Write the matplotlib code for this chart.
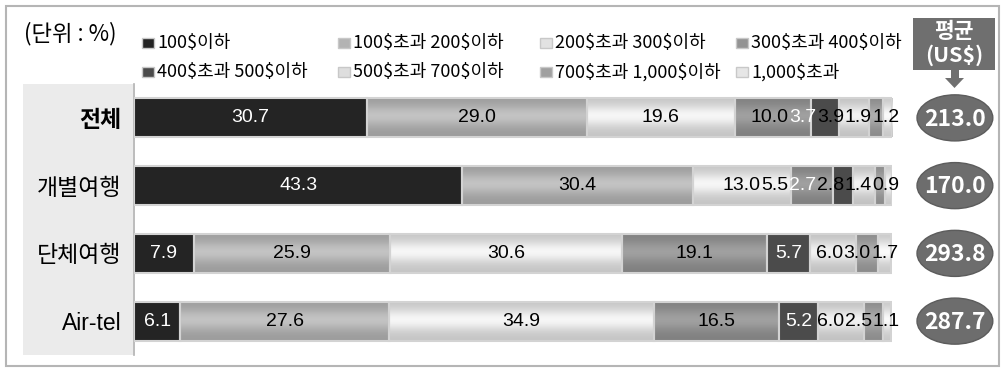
import numpy as np
import matplotlib
matplotlib.use("Agg")
import matplotlib.pyplot as plt
from matplotlib.patches import Rectangle, Ellipse, Polygon
from matplotlib.colors import to_rgb

plt.rcParams['font.family'] = ['Noto Sans CJK KR', 'DejaVu Sans']
plt.rcParams['text.parse_math'] = False  # "$" is a literal dollar sign here

# data
groups = ['전체', '개별여행', '단체여행', 'Air-tel']
bins = ['100$이하', '100$초과 200$이하', '200$초과 300$이하', '300$초과 400$이하',
        '400$초과 500$이하', '500$초과 700$이하', '700$초과 1,000$이하', '1,000$초과']
share_total = [30.7, 29.0, 19.6, 10.0, 3.7, 3.9, 1.9, 1.2]
share_indiv = [43.3, 30.4, 13.0, 5.5, 2.7, 2.8, 1.4, 0.9]
share_group = [7.9, 25.9, 30.6, 19.1, 5.7, 6.0, 3.0, 1.7]
share_airtel = [6.1, 27.6, 34.9, 16.5, 5.2, 6.0, 2.5, 1.1]
avg_usd = [213.0, 170.0, 293.8, 287.7]

colors = ['#242424', '#b3b3b3', '#e2e2e2', '#939393',
          '#4b4b4b', '#dedede', '#a0a0a0', '#e6e6e6']
shaded = [False, True, True, True, False, True, True, True]
txt_colors = ['white', 'black', 'black', 'black', 'white', 'black', 'black', 'black']

W, H = 1002, 369
fig = plt.figure(figsize=(W / 100, H / 100), dpi=100)


def fx(x):
    return x / W


def fy(y):
    return 1 - y / H


# outer frame
fig.patches.append(Rectangle((fx(6), fy(366)), fx(993), 360 / H, transform=fig.transFigure,
                             fill=False, edgecolor='#b5b5b5', lw=1.5, zorder=-2))
# category panel
fig.patches.append(Rectangle((fx(23), fy(355)), fx(110), 271 / H, transform=fig.transFigure,
                             facecolor='#ebebeb', edgecolor='none', zorder=-1))

ax = fig.add_axes([fx(134), fy(355), (892 - 134) / W, 271 / H])
ax.patch.set_alpha(0)

rows = [share_total, share_indiv, share_group, share_airtel]
data = np.array(rows)
px_per_unit = (892 - 134) / 100.0
lab_fs = 14
em = lab_fs * 100 / 72
bar_h = 0.575

# vertical shading profile: darker at top and bottom, bright band a bit above middle
t = np.linspace(0, 1, 40)
profile = 0.87 + 0.22 * np.exp(-((t - 0.45) / 0.28) ** 2)


def text_w(s):
    # rough width of a Liberation Sans label in data units
    n_dot = s.count('.')
    return ((len(s) - n_dot) * 0.556 + n_dot * 0.278) * em / px_per_unit


for i, vals in enumerate(data):
    left = np.concatenate([[0], np.cumsum(vals)[:-1]])
    bars = ax.barh(i, vals, left=left, height=bar_h, color=colors,
                   edgecolor='#d3d3d3', linewidth=1.5, zorder=3)
    for k, b in enumerate(bars):
        if not shaded[k]:
            continue
        b.set_facecolor('none')
        rgb = np.clip(np.array(to_rgb(colors[k]))[None, None, :] * profile[:, None, None], 0, 1)
        ax.imshow(rgb, extent=(left[k], left[k] + vals[k], i + bar_h / 2, i - bar_h / 2),
                  aspect='auto', interpolation='bilinear', zorder=2)
    # place labels, pushing narrow ones to the left so they don't collide
    centers = left + vals / 2
    labels = ['%.1f' % v for v in vals]
    xs = [0.0] * len(vals)
    limit = 101.0
    for k in range(len(vals) - 1, -1, -1):
        w = text_w(labels[k])
        c = min(centers[k], limit - w / 2)
        xs[k] = c
        limit = c - w / 2 - 0.1
    for k in range(len(vals)):
        ax.text(xs[k], i, labels[k], ha='center', va='center', fontsize=lab_fs,
                color=txt_colors[k], family=['Liberation Sans'], zorder=4)
    # average ellipse
    ax.add_patch(Ellipse((108.3, i), 10.0, 0.68, facecolor='#6d6d6d',
                         edgecolor='#5c5c5c', lw=1, clip_on=False, zorder=5))
    ax.text(108.3, i + 0.02, '%.1f' % avg_usd[i], ha='center', va='center',
            fontsize=16.5, fontweight='bold', color='white', zorder=6)

ax.set_xlim(0, 100)
ax.set_ylim(3.5, -0.5)
ax.set_xticks([])
ax.set_yticks(range(len(groups)))
ax.set_yticklabels(groups, family=['Liberation Sans', 'Noto Sans CJK KR'], fontsize=16.5)
ax.get_yticklabels()[0].set_fontweight('bold')
ax.tick_params(axis='y', length=0, pad=9)
for s in ['top', 'right', 'bottom']:
    ax.spines[s].set_visible(False)
ax.spines['left'].set_color('#b0b0b0')
ax.spines['left'].set_linewidth(1.2)

# unit
fig.text(fx(24), fy(34), '(단위 : %)', fontsize=16, va='center', ha='left')

# legend drawn by hand, two rows of four
leg_x = [142, 338, 540, 736]
leg_y = [43, 72]
for j, name in enumerate(bins):
    x0 = leg_x[j % 4]
    y0 = leg_y[j // 4]
    fig.patches.append(Rectangle((fx(x0), fy(y0 + 5)), 12 / W, 10 / H, transform=fig.transFigure,
                                 facecolor=colors[j], edgecolor='#c8c8c8', lw=1))
    fig.text(fx(x0 + 15), fy(y0), name, fontsize=13, va='center', ha='left')

# average header box with arrow
fig.patches.append(Rectangle((fx(913), fy(70)), 82 / W, 52 / H, transform=fig.transFigure,
                             facecolor='#6f6f6f', edgecolor='none'))
fig.text(fx(954), fy(31), '평균', fontsize=15.5, fontweight='bold', color='white',
         ha='center', va='center')
fig.text(fx(954), fy(55), '(US$)', fontsize=15.5, fontweight='bold', color='white',
         ha='center', va='center')
fig.patches.append(Rectangle((fx(950.5), fy(79)), 8 / W, 9 / H, transform=fig.transFigure,
                             facecolor='#6f6f6f', edgecolor='none'))
fig.patches.append(Polygon([(fx(945), fy(78)), (fx(964), fy(78)), (fx(954.5), fy(88))],
                           closed=True, transform=fig.transFigure,
                           facecolor='#6f6f6f', edgecolor='none'))

fig.savefig('out.png', dpi=100)
